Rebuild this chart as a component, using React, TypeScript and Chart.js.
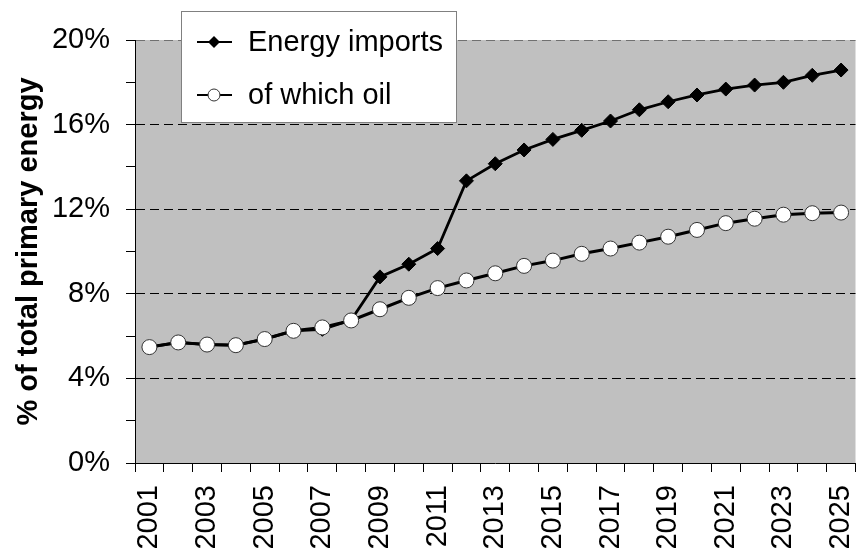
import React, { useEffect, useRef } from "react";
import { Chart, registerables } from "chart.js";

Chart.register(...registerables);

const years = ["2001","2002","2003","2004","2005","2006","2007","2008","2009","2010","2011","2012","2013","2014","2015","2016","2017","2018","2019","2020","2021","2022","2023","2024","2025"];
const energyImports = [5.48,5.70,5.60,5.57,5.86,6.25,6.32,6.76,8.80,9.40,10.14,13.34,14.15,14.80,15.30,15.73,16.17,16.70,17.08,17.40,17.68,17.87,18.00,18.33,18.58];
const oilImports = [5.48,5.70,5.60,5.57,5.86,6.25,6.41,6.74,7.27,7.81,8.27,8.63,8.97,9.32,9.57,9.89,10.14,10.42,10.70,11.02,11.34,11.55,11.74,11.81,11.84];
const seriesNames = ["Energy imports", "of which oil"];
const yTitle = "% of total primary energy";

const FONT = "'Liberation Sans', Arial, Helvetica, sans-serif";

const bgPlugin = {
  id: "plotBg",
  beforeDraw(chart: any) {
    const { ctx, chartArea } = chart;
    ctx.save();
    ctx.fillStyle = "#C0C0C0";
    ctx.fillRect(chartArea.left, chartArea.top, chartArea.right - chartArea.left, chartArea.bottom - chartArea.top);
    ctx.restore();
  },
};

const legendPlugin = {
  id: "boxLegend",
  afterDraw(chart: any) {
    const { ctx } = chart;
    ctx.save();
    const x = 181.5, y = 11.5, w = 275, h = 111;
    ctx.fillStyle = "#ffffff";
    ctx.fillRect(x, y, w, h);
    ctx.strokeStyle = "#808080";
    ctx.lineWidth = 1;
    ctx.strokeRect(x, y, w, h);
    const rows = [42, 95];
    rows.forEach((ry, i) => {
      ctx.strokeStyle = "#000";
      ctx.lineWidth = 2;
      ctx.beginPath();
      ctx.moveTo(197, ry);
      ctx.lineTo(232, ry);
      ctx.stroke();
      ctx.lineWidth = 1;
      if (i === 0) {
        ctx.fillStyle = "#000";
        ctx.beginPath();
        ctx.moveTo(214 - 6, ry);
        ctx.lineTo(214, ry - 6);
        ctx.lineTo(214 + 6, ry);
        ctx.lineTo(214, ry + 6);
        ctx.closePath();
        ctx.fill();
      } else {
        ctx.fillStyle = "#fff";
        ctx.strokeStyle = "#333";
        ctx.beginPath();
        ctx.arc(214, ry, 6, 0, Math.PI * 2);
        ctx.fill();
        ctx.stroke();
      }
      ctx.fillStyle = "#000";
      ctx.font = `29px ${FONT}`;
      ctx.textBaseline = "middle";
      ctx.textAlign = "left";
      ctx.fillText(seriesNames[i], 248, ry + 1);
    });
    ctx.restore();
  },
};

export default function App() {
  const ref = useRef<HTMLCanvasElement>(null);
  useEffect(() => {
    if (!ref.current) return;
    const chart = new Chart(ref.current, {
      type: "line",
      data: {
        labels: years,
        datasets: [
          {
            label: seriesNames[1],
            data: oilImports,
            borderColor: "#000",
            borderWidth: 3,
            pointStyle: "circle",
            pointRadius: 7.5,
            pointBackgroundColor: "#fff",
            pointBorderColor: "#333",
            pointBorderWidth: 1,
            tension: 0,
            order: 0,
          },
          {
            label: seriesNames[0],
            data: energyImports,
            borderColor: "#000",
            borderWidth: 2.8,
            pointStyle: "rectRot",
            pointRadius: 7,
            pointBackgroundColor: "#000",
            pointBorderColor: "#000",
            pointBorderWidth: 1,
            tension: 0,
            order: 1,
          },
        ],
      },
      options: {
        animation: false,
        responsive: true,
        maintainAspectRatio: false,
        layout: { padding: { top: 40, right: 4, left: 0, bottom: 0 } },
        plugins: { legend: { display: false }, tooltip: { enabled: false } },
        scales: {
          x: {
            type: "category",
            offset: true,
            grid: {
              display: true,
              offset: true,
              drawOnChartArea: false,
              drawTicks: true,
              tickLength: 9,
              tickColor: "#000",
              tickWidth: 1,
            },
            border: { display: true, color: "#000", width: 1 },
            ticks: {
              autoSkip: false,
              maxRotation: 90,
              minRotation: 90,
              padding: 13,
              color: "#000",
              font: { family: FONT, size: 29 },
              callback: (_v: any, i: number) => (i % 2 === 0 ? years[i] : ""),
            },
            afterFit: (s: any) => {
              s.height = 90;
              s.paddingLeft = 0;
              s.paddingRight = 0;
            },
          },
          y: {
            min: 0,
            max: 20,
            grid: {
              drawTicks: true,
              tickLength: 9,
              tickColor: "#000",
              tickWidth: 1,
              tickBorderDash: [],
              lineWidth: 1,
              color: (c: any) => {
                const v = c.tick ? c.tick.value : 0;
                if (v === 20) return "#707070";
                if (v > 0 && v % 4 === 0) return "#000";
                return "rgba(0,0,0,0)";
              },
            },
            border: { display: true, color: "#000", width: 1, dash: [9, 5] },
            ticks: {
              stepSize: 2,
              padding: 16,
              color: "#000",
              font: { family: FONT, size: 29 },
              callback: (v: any) => (Number(v) % 4 === 0 ? v + "%" : ""),
            },
            title: {
              display: true,
              text: yTitle,
              color: "#000",
              font: { family: FONT, size: 29, weight: "bold" },
              padding: { top: 12, bottom: 0 },
            },
            afterFit: (s: any) => {
              s.width = 135;
              s.paddingTop = 0;
              s.paddingBottom = 0;
            },
          },
        },
      },
      plugins: [bgPlugin, legendPlugin],
    } as any);
    return () => chart.destroy();
  }, []);
  return (
    <div style={{ position: "absolute", left: 0, top: 0, width: 858, height: 553, overflow: "hidden", background: "#fff" }}>
      <div style={{ position: "relative", width: 864, height: 553 }}>
        <canvas ref={ref} />
      </div>
    </div>
  );
}
